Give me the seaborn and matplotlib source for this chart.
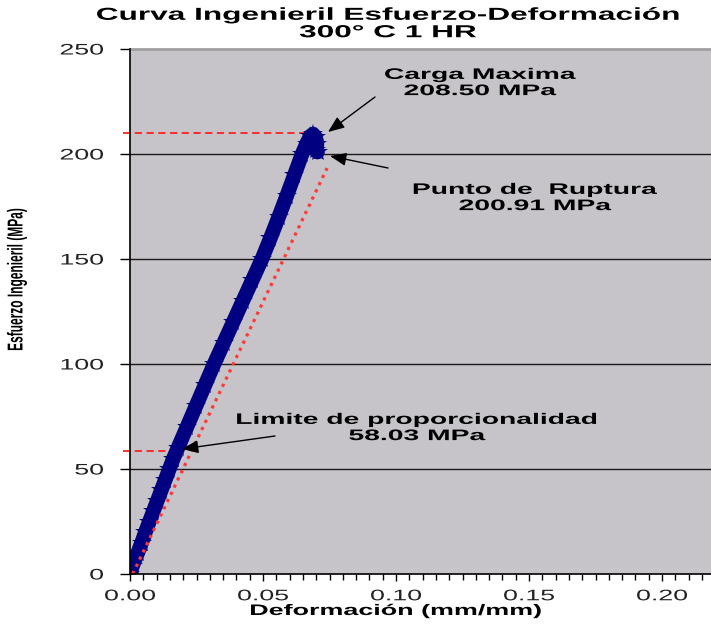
import numpy as np
import pandas as pd
import seaborn as sns
import matplotlib
matplotlib.use("Agg")
import matplotlib.pyplot as plt
from matplotlib.patheffects import AbstractPathEffect
from matplotlib.transforms import Affine2D
from matplotlib import font_manager

# ---------------- data ----------------
strain = [0.0, 0.0010, 0.0029, 0.0044, 0.0058, 0.0073, 0.0088, 0.0103, 0.0118, 0.0133,
          0.0148, 0.0163, 0.0180, 0.0214, 0.0248, 0.0282, 0.0316, 0.0352, 0.0388, 0.0424,
          0.0460, 0.0496, 0.0528, 0.0559, 0.0589, 0.0618, 0.0647, 0.0664, 0.0678, 0.0688,
          0.0698, 0.0703, 0.0700, 0.0705]
stress = [0.0, 4.0, 10.0, 15.0, 20.0, 25.0, 30.0, 35.0, 40.0, 45.0,
          50.0, 55.0, 60.0, 70.0, 80.0, 90.0, 100.0, 110.0, 120.0, 130.0,
          140.0, 150.0, 160.0, 170.0, 180.0, 190.0, 200.0, 205.0, 208.5, 209.5,
          208.0, 205.0, 202.0, 200.91]

offset_strain = [0.001, 0.0741]
offset_stress = [0.0, 193.3]

max_line_y = 210.0
max_strain = 0.0688
prop_line_y = 58.6
prop_strain = 0.0197

y_ticks = [0, 50, 100, 150, 200, 250]
x_ticks = [0.00, 0.05, 0.10, 0.15, 0.20]
x_tick_labels = ["0.00", "0.05", "0.10", "0.15", "0.20"]

title_text = "Curva Ingenieril Esfuerzo-Deformación\n300° C 1 HR"
xlabel_text = "Deformación (mm/mm)"
ylabel_text = "Esfuerzo Ingenieril (MPa)"
note_max = "Carga Maxima\n208.50 MPa"
note_rup = "Punto de  Ruptura\n200.91 MPa"
note_prop = "Limite de proporcionalidad\n58.03 MPa"


# ---------------- horizontal stretch for text ----------------
class Stretch(AbstractPathEffect):
    def __init__(self, sx, anchor="center"):
        super().__init__()
        self.sx = sx
        self.anchor = anchor

    def draw_path(self, renderer, gc, tpath, affine, rgbFace=None):
        ext = affine.transform_path(tpath).get_extents()
        if self.anchor == "right":
            a = ext.x1
        elif self.anchor == "left":
            a = ext.x0
        else:
            a = 0.5 * (ext.x0 + ext.x1)
        t = affine + Affine2D().translate(-a, 0).scale(self.sx, 1.0).translate(a, 0)
        renderer.draw_path(gc, tpath, t, rgbFace)


sns.set_theme(style="white")
plt.rcParams["font.family"] = ["Liberation Sans", "DejaVu Sans"]

names = {f.name for f in font_manager.fontManager.ttflist}
narrow = "Liberation Sans Narrow" in names

W, H = 711, 627
fig = plt.figure(figsize=(W / 100, H / 100), dpi=100)
fig.patch.set_facecolor("white")

L, R, T, B = 130, 711, 49, 574
ax = fig.add_axes([L / W, (H - B) / H, (R - L) / W, (B - T) / H])
ax.set_facecolor("#C6C4C8")

xmax = (R - L) / 2660.0
ax.set_xlim(0, xmax)
ax.set_ylim(0, 250)

# gridlines
for yv in y_ticks[1:-1]:
    ax.axhline(yv, color="#1a1a1a", lw=1.0, zorder=1)

# dashed reference lines
ax.plot([-0.0025, max_strain], [max_line_y, max_line_y], color="#FF2020", lw=1.3,
        linestyle=(0, (4.0, 2.5)), zorder=2, clip_on=False)
ax.plot([-0.0025, prop_strain], [prop_line_y, prop_line_y], color="#FF2020", lw=1.3,
        linestyle=(0, (4.0, 2.5)), zorder=2, clip_on=False)

# main curve
df = pd.DataFrame({"strain": strain, "stress": stress})
sns.lineplot(data=df, x="strain", y="stress", sort=False, color="#000080",
             lw=10.5, marker="*", markersize=15, markeredgewidth=0,
             ax=ax, zorder=4, legend=False)

# offset dotted line
ax.plot(offset_strain, offset_stress, color="#FF3838", lw=2.3,
        linestyle=(0, (1.0, 1.5)), zorder=5)

# spines
ax.spines["right"].set_visible(False)
ax.spines["top"].set_color("#A0A0A0")
ax.spines["top"].set_linewidth(2.0)
for s in ["left", "bottom"]:
    ax.spines[s].set_color("black")
    ax.spines[s].set_linewidth(1.2)
    ax.spines[s].set_zorder(6)

ax.set_yticks(y_ticks)
ax.set_yticklabels([str(v) for v in y_ticks])
ax.set_xticks(x_ticks)
ax.set_xticklabels(x_tick_labels)
ax.set_xticks(np.arange(0.005, xmax, 0.005), minor=True)
ax.tick_params(axis="both", which="both", direction="out", colors="black",
               bottom=True, left=True, top=False, right=False)
ax.tick_params(axis="y", which="major", length=7, width=1, pad=12, labelsize=11,
               labelcolor="#222222")
ax.tick_params(axis="x", which="major", length=5, width=1, pad=6, labelsize=11,
               labelcolor="#222222")
ax.tick_params(axis="x", which="minor", length=4, width=1)
for lab in ax.get_yticklabels():
    lab.set_path_effects([Stretch(1.75, "right")])
for lab in ax.get_xticklabels():
    lab.set_path_effects([Stretch(1.75, "center")])

ax.set_xlabel("")
ax.set_ylabel("")


def fy(py):
    return 1 - py / H


fig.text(396 / W, fy(611), xlabel_text, ha="center", va="center", fontsize=11,
         fontweight="bold", color="black", path_effects=[Stretch(1.76)])
if narrow:
    fig.text(17 / W, fy(280), ylabel_text, ha="center", va="center", rotation=90,
             fontsize=10.5, fontweight="bold",
             family=["Liberation Sans Narrow", "DejaVu Sans"],
             color="black", path_effects=[Stretch(1.5)])
else:
    fig.text(17 / W, fy(280), ylabel_text, ha="center", va="center", rotation=90,
             fontsize=8.6, fontweight="bold", color="black",
             path_effects=[Stretch(1.8)])
fig.text(388 / W, fy(24), title_text, ha="center", va="center", fontsize=12.5,
         fontweight="bold", color="black", linespacing=1.2,
         path_effects=[Stretch(1.82)])


def dx(px):
    return (px - L) / 2660.0


def dy(py):
    return (B - py) / 2.1


txt_kw = dict(ha="center", va="center", fontsize=11, fontweight="bold",
              color="black", linespacing=1.2, path_effects=[Stretch(1.85)], zorder=7)
ax.text(dx(480), dy(83), note_max, **txt_kw)
ax.text(dx(535), dy(198), note_rup, **txt_kw)
ax.text(dx(417), dy(428), note_prop, **txt_kw)

arrow_kw = dict(arrowstyle="-|>,head_length=0.55,head_width=0.22", color="black",
                lw=1.0, mutation_scale=18, shrinkA=0, shrinkB=0)
ax.annotate("", xy=(dx(328), dy(132)), xytext=(dx(375), dy(97)),
            arrowprops=arrow_kw, zorder=8)
ax.annotate("", xy=(dx(330), dy(156)), xytext=(dx(388), dy(168)),
            arrowprops=arrow_kw, zorder=8)
ax.annotate("", xy=(dx(182), dy(449)), xytext=(dx(275), dy(436)),
            arrowprops=arrow_kw, zorder=8)

fig.savefig("out.png", dpi=100, facecolor="white")
